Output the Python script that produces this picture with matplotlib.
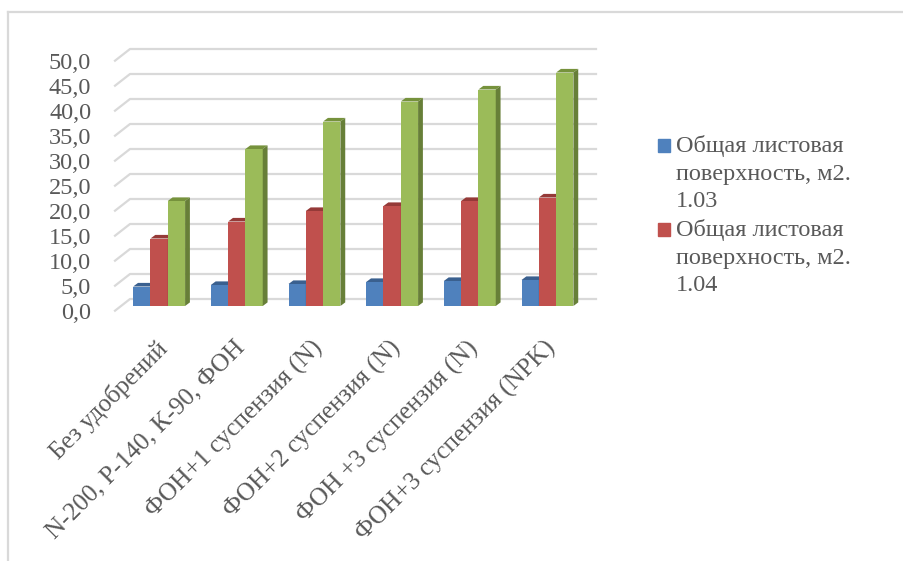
import matplotlib
matplotlib.use('Agg')
import matplotlib.pyplot as plt
from matplotlib.patches import Polygon, Patch
from matplotlib.lines import Line2D
from matplotlib.transforms import ScaledTranslation

W, H = 904, 561

categories = ['Без удобрений', 'N-200, Р-140, К-90, ФОН', 'ФОН+1 суспензия (N)',
              'ФОН+2 суспензия (N)', 'ФОН +3 суспензия (N)', 'ФОН+3 суспензия (NPK)']
leaf_103 = [3.9, 4.2, 4.4, 4.8, 5.0, 5.2]
leaf_104 = [13.5, 16.9, 19.0, 20.0, 21.0, 21.7]
leaf_third = [21.0, 31.4, 36.9, 40.9, 43.3, 46.7]
y_ticks = [0, 5, 10, 15, 20, 25, 30, 35, 40, 45, 50]
y_labels = ['0,0', '5,0', '10,0', '15,0', '20,0', '25,0', '30,0', '35,0', '40,0', '45,0', '50,0']
legend_103 = 'Общая листовая\nповерхность, м2.\n1.03'
legend_104 = 'Общая листовая\nповерхность, м2.\n1.04'

TEXT = '#595959'
GRID = '#d9d9d9'
FONT = 17.5
series = [(leaf_103, '#4f81bd', '#3a608f', '#3a608f'),
          (leaf_104, '#c0504d', '#953a38', '#953a38'),
          (leaf_third, '#9bbb59', '#76923c', '#677f38')]

plt.rcParams['font.family'] = ['Liberation Serif', 'DejaVu Serif']

fig = plt.figure(figsize=(W / 100, H / 100), dpi=100)

# outer chart frame, only top and left are visible
fig.add_artist(Line2D([8 / W, 8 / W], [0, 1 - 12 / H], color=GRID, lw=1.6))
fig.add_artist(Line2D([8 / W, 1], [1 - 12 / H, 1 - 12 / H], color=GRID, lw=1.6))

# axes sit on the front plane of the bars
left, right, bottom, top = 120.3, 586.3, 306, 56
ax = fig.add_axes([left / W, 1 - bottom / H, (right - left) / W, (bottom - top) / H])
ax.set_xlim(0, 6)
ax.set_ylim(0, 50)
ax.patch.set_alpha(0)
for s in ax.spines.values():
    s.set_visible(False)

# depth of the fake 3d box and bars, in data units
back_dx, back_dy = 0.125, 1.4
front_dx, front_dy = -0.068, -0.94
bar_dx, bar_dy = 0.062, 0.72
bar_w = 17.3 / 77.67

for v in y_ticks:
    ax.plot([front_dx, back_dx, 6 + back_dx], [v + front_dy, v + back_dy, v + back_dy],
            color=GRID, lw=1.6, clip_on=False, zorder=1)

for i, (vals, face, top_col, side_col) in enumerate(series):
    xs = [k + 0.5 + (i - 1) * bar_w for k in range(len(vals))]
    ax.bar(xs, vals, width=bar_w, color=face, zorder=3 + i)
    for x, v in zip(xs, vals):
        x0, x1 = x - bar_w / 2, x + bar_w / 2
        ax.add_patch(Polygon([(x0, v), (x1, v), (x1 + bar_dx, v + bar_dy), (x0 + bar_dx, v + bar_dy)],
                             closed=True, color=top_col, lw=0, zorder=3 + i, clip_on=False))
        ax.add_patch(Polygon([(x1, 0), (x1 + bar_dx, bar_dy), (x1 + bar_dx, v + bar_dy), (x1, v)],
                             closed=True, color=side_col, lw=0, zorder=3 + i, clip_on=False))

ax.set_yticks(y_ticks)
ax.set_yticklabels(y_labels, fontsize=FONT, color=TEXT)
ax.tick_params(axis='y', length=0, pad=21)
shift_y = ScaledTranslation(0, -3.5 / 72, fig.dpi_scale_trans)
for lab in ax.get_yticklabels():
    lab.set_transform(lab.get_transform() + shift_y)

ax.set_xticks([k + 0.5 for k in range(len(categories))])
ax.set_xticklabels(categories, rotation=45, ha='right', rotation_mode='anchor',
                   fontsize=18.2, color=TEXT)
ax.tick_params(axis='x', length=0, pad=22)
shift_x = ScaledTranslation(-3.5 / 100, 0, fig.dpi_scale_trans)
for lab in ax.get_xticklabels():
    lab.set_transform(lab.get_transform() + shift_x)

handles = [Patch(color=series[0][1]), Patch(color=series[1][1])]
leg = ax.legend(handles, [legend_103, legend_104], frameon=False, prop={'size': FONT},
                labelcolor=TEXT, loc='upper left',
                bbox_to_anchor=((658 - left) / (right - left), (306 - 135) / 250),
                handlelength=0.49, handleheight=0.47, handletextpad=0.25, labelspacing=0.27,
                borderpad=0, borderaxespad=0)
for t in leg.get_texts():
    t.set_linespacing(1.42)
# move the swatches up to the first line of their label
for h in leg.legend_handles:
    h.set_y(h.get_y() + 20)

fig.savefig('out.png', dpi=100)
